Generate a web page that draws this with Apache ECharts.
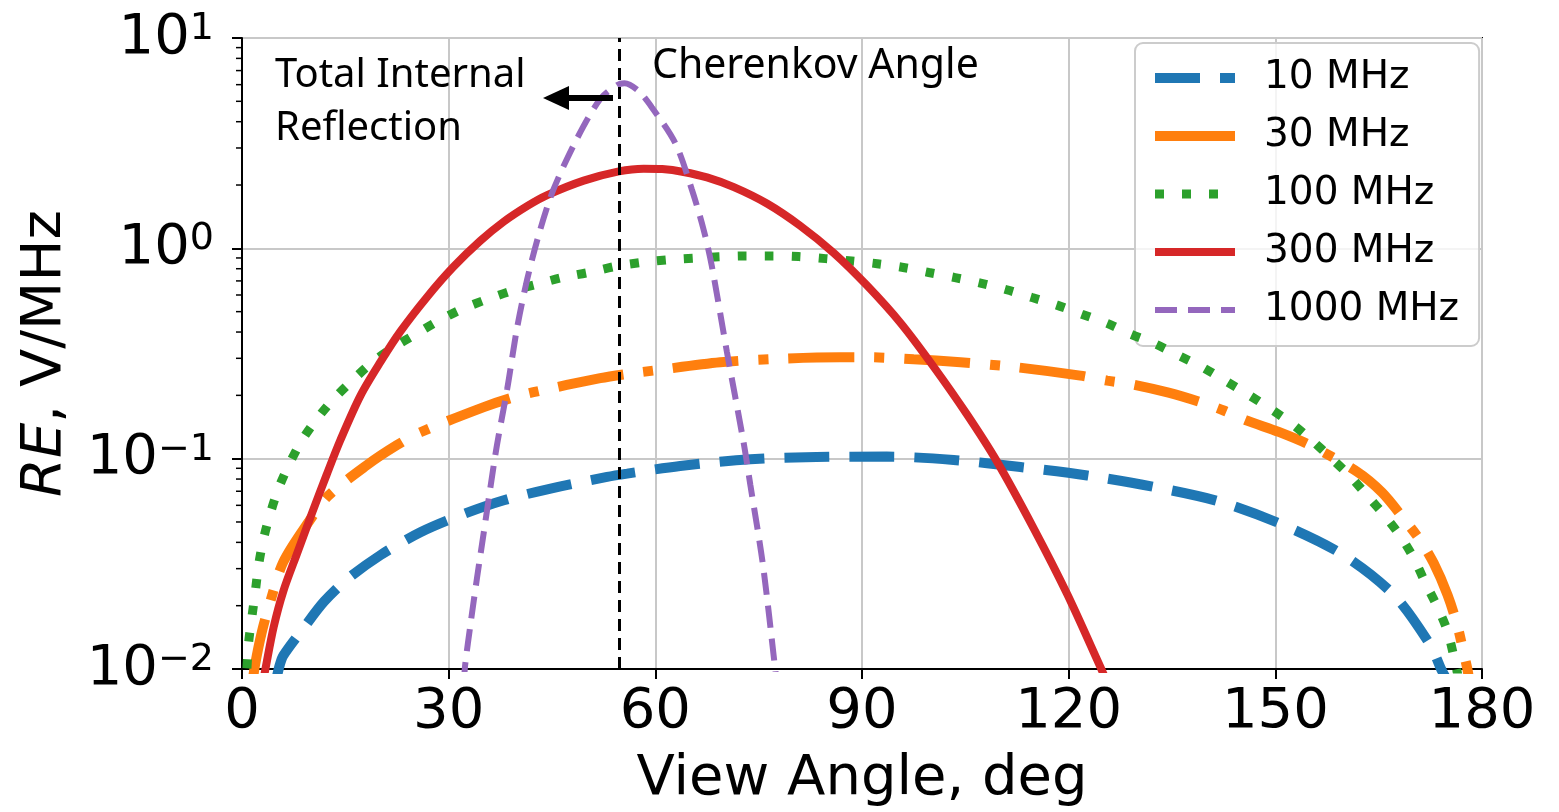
<!DOCTYPE html>
<html>
<head>
<meta charset="utf-8">
<script src="https://cdn.jsdelivr.net/npm/echarts@6/dist/echarts.min.js"></script>
<style>
html,body{margin:0;padding:0;background:#fff;}
#c{width:1559px;height:812px;}
</style>
</head>
<body>
<div id="c"></div>
<script>
// ---- data ----
const cherenkovAngle = 54.7;

const angles10 = [5.0, 5.5, 6.0, 8.9, 11.9, 15.2, 20.1, 25.9, 31.7, 38.0, 44.8, 53.0, 55.9, 63.6, 73.8, 83.4, 93.6, 103.3, 113.0, 122.7, 132.3, 142.0, 151.2, 159.9, 167.2, 172.5, 174.0, 174.8];
const re10 = [0.0090, 0.0105, 0.0116, 0.0156, 0.0209, 0.0266, 0.0348, 0.0447, 0.0538, 0.0634, 0.0721, 0.0819, 0.0849, 0.0923, 0.0993, 0.1019, 0.1023, 0.0986, 0.0912, 0.0832, 0.0735, 0.0624, 0.0483, 0.0348, 0.0225, 0.0130, 0.0101, 0.0090];

const angles30 = [1.5, 1.9, 2.9, 4.1, 6.0, 9.7, 12.5, 18.1, 22.5, 25.9, 35.1, 39.0, 42.3, 52.0, 55.9, 59.8, 69.4, 77.2, 86.8, 90.7, 97.5, 104.3, 112.0, 121.7, 125.6, 129.4, 134.5, 139.1, 142.5, 145.9, 150.5, 155.1, 161.9, 165.5, 168.6, 171.0, 173.0, 175.0, 176.4, 177.3, 178.0, 178.5];
const re30 = [0.0085, 0.0105, 0.0151, 0.0209, 0.0323, 0.0502, 0.0665, 0.0930, 0.1160, 0.1335, 0.1758, 0.1940, 0.2070, 0.2415, 0.2529, 0.2624, 0.2871, 0.2979, 0.3034, 0.3034, 0.2970, 0.2871, 0.2730, 0.2483, 0.2350, 0.2250, 0.2060, 0.1858, 0.1694, 0.1517, 0.1340, 0.1156, 0.0865, 0.0690, 0.0520, 0.0410, 0.0318, 0.0225, 0.0162, 0.0121, 0.0095, 0.0070];

const angles100 = [0.5, 0.96, 1.45, 1.93, 2.41, 3.14, 4.1, 5.3, 6.77, 8.7, 10.9, 13.3, 16.0, 18.9, 22.0, 25.2, 28.5, 31.9, 35.6, 39.2, 42.8, 46.5, 50.3, 54.2, 57.8, 61.7, 65.6, 69.2, 73.1, 76.9, 80.8, 84.7, 88.5, 92.2, 96.0, 99.7, 103.5, 107.2, 111.0, 114.7, 118.3, 121.9, 125.6, 129.0, 132.6, 136.0, 139.4, 142.7, 145.9, 149.3, 152.4, 155.3, 158.2, 160.9, 163.3, 166.0, 168.2, 170.1, 171.8, 173.5, 175.0, 175.9, 176.6];
const re100 = [0.0075, 0.0133, 0.0178, 0.0233, 0.0312, 0.0418, 0.0548, 0.0721, 0.0929, 0.1222, 0.1549, 0.1923, 0.2350, 0.2871, 0.3381, 0.3908, 0.4519, 0.5140, 0.5728, 0.6281, 0.6745, 0.7261, 0.7674, 0.8204, 0.8551, 0.8810, 0.8974, 0.9120, 0.9204, 0.9204, 0.9141, 0.8933, 0.8710, 0.8453, 0.8110, 0.7674, 0.7261, 0.6840, 0.6353, 0.5834, 0.5370, 0.4864, 0.4395, 0.3908, 0.3508, 0.3090, 0.2723, 0.2350, 0.2032, 0.1726, 0.1466, 0.1222, 0.1000, 0.0822, 0.0670, 0.0530, 0.0426, 0.0336, 0.0256, 0.0198, 0.0151, 0.0115, 0.0090];

const angles300 = [3.0, 3.4, 4.6, 6.0, 8.0, 10.2, 12.3, 14.3, 17.2, 20.1, 23.0, 26.9, 30.7, 34.6, 38.0, 41.5, 44.3, 49.6, 54.7, 58.3, 61.0, 64.1, 67.5, 71.4, 76.2, 81.0, 85.9, 90.7, 95.6, 100.4, 105.2, 109.6, 114.9, 119.8, 124.6, 125.2];
const re300 = [0.0085, 0.0100, 0.01585, 0.02344, 0.03548, 0.05559, 0.08414, 0.1230, 0.1995, 0.2884, 0.4027, 0.5888, 0.8166, 1.086, 1.340, 1.596, 1.791, 2.099, 2.323, 2.393, 2.382, 2.307, 2.173, 1.954, 1.633, 1.282, 0.9506, 0.6668, 0.4416, 0.2735, 0.1629, 0.0968, 0.04677, 0.02265, 0.01023, 0.00923];

const angles1000 = [32.2, 32.4, 33.2, 34.1, 35.1, 36.0, 37.0, 38.5, 39.9, 41.4, 43.3, 45.2, 48.6, 52.0, 54.4, 55.5, 57.5, 59.5, 62.9, 65.3, 67.0, 68.2, 70.4, 72.8, 73.8, 75.6, 77.4, 77.6];
const re1000 = [0.0085, 0.0105, 0.0166, 0.0269, 0.0447, 0.0708, 0.1156, 0.2148, 0.413, 0.7129, 1.230, 1.900, 3.311, 5.129, 5.957, 6.095, 5.623, 4.677, 3.162, 1.905, 1.230, 0.824, 0.3206, 0.120, 0.0748, 0.0316, 0.0100, 0.0088];

const seriesNames = ['10 MHz', '30 MHz', '100 MHz', '300 MHz', '1000 MHz'];
const xTickInterval = 30;
const yMinorTicks = [0.02,0.03,0.04,0.05,0.06,0.07,0.08,0.09, 0.2,0.3,0.4,0.5,0.6,0.7,0.8,0.9, 2,3,4,5,6,7,8,9];
const annotationCherenkov = 'Cherenkov Angle';
const annotationTIR = ['Total Internal', 'Reflection'];

// ---- chart ----
const zip = (a, b) => a.map((x, i) => [x, b[i]]);
const colors = ['#1f77b4', '#ff7f0e', '#2ca02c', '#d62728', '#9467bd'];
const widths = [10, 10, 9, 8, 6];
const dashes = [[45, 20], [66, 20, 10, 20], [9, 18], 'solid', [22, 11]];
const legendDashes = [[45, 20], 'solid', [9, 18], 'solid', [22, 11]];
const datas = [zip(angles10, re10), zip(angles30, re30), zip(angles100, re100), zip(angles300, re300), zip(angles1000, re1000)];

const FONT = 'DejaVu Sans';
const chart = echarts.init(document.getElementById('c'), null, {renderer: 'canvas'});

const lineSeries = seriesNames.map((n, i) => ({
  name: n,
  type: 'line',
  data: datas[i],
  symbol: 'none',
  showSymbol: false,
  smooth: 0.3,
  clip: true,
  z: 2 + i,
  lineStyle: {color: colors[i], width: widths[i], type: dashes[i], cap: 'butt'},
  itemStyle: {color: colors[i]}
}));

lineSeries[4].markLine = {
  silent: true,
  symbol: 'none',
  label: {show: false},
  lineStyle: {color: '#000', width: 3, type: [12, 7]},
  data: [{xAxis: cherenkovAngle}],
  z: 10
};

const minorSeries = {
  type: 'custom',
  name: '_minor',
  coordinateSystem: 'cartesian2d',
  clip: false,
  silent: true,
  z: 20,
  data: yMinorTicks.map(v => [0, v]),
  renderItem: function (params, api) {
    const p = api.coord([0, api.value(1)]);
    return {type: 'line', shape: {x1: p[0] - 6, y1: p[1], x2: p[0], y2: p[1]}, style: {stroke: '#000', lineWidth: 1.5}};
  }
};

const option = {
  animation: false,
  backgroundColor: '#fff',
  grid: {left: 242, right: 77, top: 38, bottom: 141, show: true, borderColor: '#000', borderWidth: 2, backgroundColor: 'transparent', containLabel: false},
  legend: {
    orient: 'vertical',
    left: 1135, top: 43,
    data: seriesNames.map((n, i) => ({name: n, lineStyle: {width: widths[i], type: legendDashes[i], color: colors[i], cap: 'butt'}})),
    itemWidth: 80, itemHeight: 14, itemGap: 18,
    itemStyle: {opacity: 0},
    padding: [15, 20, 16, 15],
    backgroundColor: 'rgba(255,255,255,0.8)',
    borderColor: '#cccccc', borderWidth: 2, borderRadius: 8,
    textStyle: {fontFamily: FONT, fontSize: 39, color: '#000', lineHeight: 40, padding: [0, 0, 0, 24]}
  },
  xAxis: {
    type: 'value', min: 0, max: 180, interval: xTickInterval,
    axisLine: {show: true, lineStyle: {color: '#000', width: 2}},
    axisTick: {show: true, length: 10, lineStyle: {color: '#000', width: 2}},
    axisLabel: {fontFamily: FONT, fontSize: 56, color: '#000', margin: 15},
    splitLine: {show: true, lineStyle: {color: '#c8c8c8', width: 2}},
    name: 'View Angle, deg', nameLocation: 'middle', nameGap: 110,
    nameTextStyle: {fontFamily: FONT, fontSize: 56, color: '#000', verticalAlign: 'middle'}
  },
  yAxis: {
    type: 'log', logBase: 10, min: 0.01, max: 10,
    axisLine: {show: true, lineStyle: {color: '#000', width: 2}},
    axisTick: {show: true, length: 10, lineStyle: {color: '#000', width: 2}},
    axisLabel: {
      margin: 28, color: '#000',
      formatter: function (v) {
        const e = Math.round(Math.log10(v));
        return '{b|10}{s|' + (e < 0 ? '\u2212' + (-e) : e) + '}';
      },
      rich: {
        b: {fontFamily: FONT, fontSize: 56, lineHeight: 56, color: '#000'},
        s: {fontFamily: FONT, fontSize: 38, lineHeight: 38, color: '#000', verticalAlign: 'top'}
      }
    },
    splitLine: {show: true, lineStyle: {color: '#c8c8c8', width: 2}},
    name: '{i|RE}{n|, V/MHz}', nameLocation: 'middle', nameGap: 197, nameRotate: 90,
    nameTextStyle: {
      verticalAlign: 'middle',
      rich: {
        i: {fontFamily: FONT, fontSize: 56, fontStyle: 'italic', color: '#000'},
        n: {fontFamily: FONT, fontSize: 56, color: '#000'}
      }
    }
  },
  graphic: [
    {type: 'text', x: 275, y: 76, z: 50, style: {text: annotationTIR[0], font: '40px "Noto Sans"', fill: '#000', textVerticalAlign: 'middle'}},
    {type: 'text', x: 275, y: 129, z: 50, style: {text: annotationTIR[1], font: '40px "Noto Sans"', fill: '#000', textVerticalAlign: 'middle'}},
    {type: 'text', x: 652, y: 66, z: 50, style: {text: annotationCherenkov, font: '41px "Noto Sans"', fill: '#000', textVerticalAlign: 'middle'}},
    {type: 'polygon', z: 50, shape: {points: [[543, 98], [569, 86], [569, 110]]}, style: {fill: '#000'}},
    {type: 'rect', z: 50, shape: {x: 567, y: 95, width: 46, height: 6}, style: {fill: '#000'}}
  ],
  series: lineSeries.concat([minorSeries])
};
chart.setOption(option);
</script>
</body>
</html>
